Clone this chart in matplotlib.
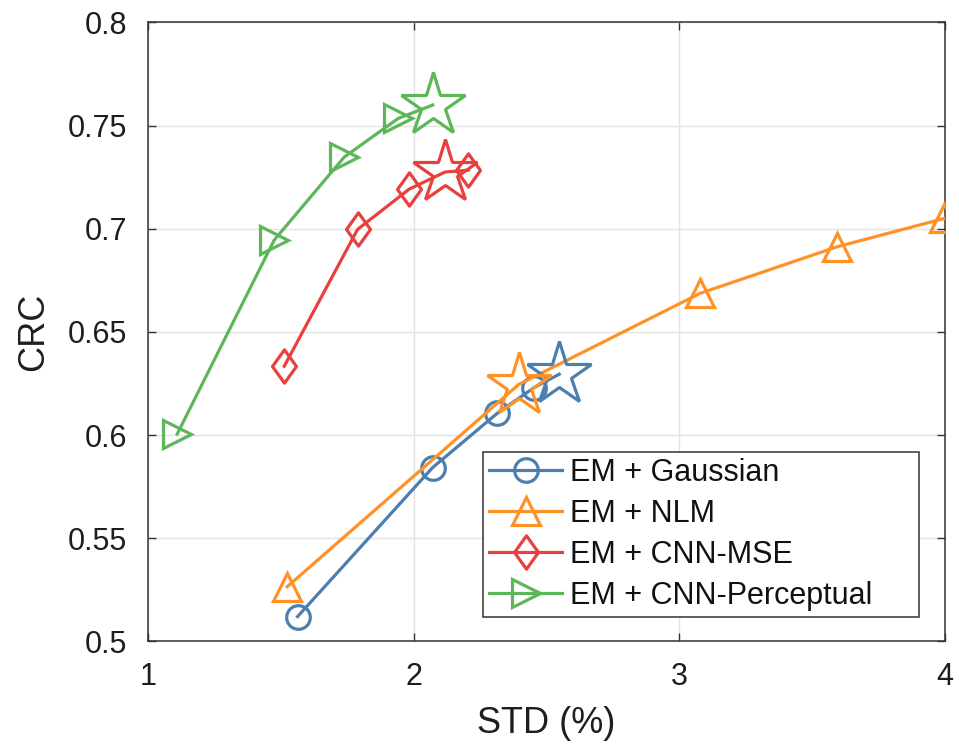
import matplotlib
matplotlib.use("Agg")
import matplotlib.pyplot as plt
from matplotlib.path import Path
import numpy as np

plt.rcParams['font.family'] = ['Liberation Sans', 'DejaVu Sans']

# ---- data ----
labels = ["EM + Gaussian", "EM + NLM", "EM + CNN-MSE", "EM + CNN-Perceptual"]

gauss_x = [1.563, 2.071, 2.314, 2.453, 2.548]
gauss_y = [0.512, 0.5842, 0.6105, 0.623, 0.6295]
gauss_star = 4

nlm_x = [1.524, 2.395, 3.078, 3.592, 3.997]
nlm_y = [0.5265, 0.6245, 0.6687, 0.6912, 0.7050]
nlm_star = 1

mse_x = [1.513, 1.789, 1.983, 2.118, 2.205]
mse_y = [0.6334, 0.6997, 0.7192, 0.7275, 0.7284]
mse_star = 3

perc_x = [1.110, 1.475, 1.739, 1.942, 2.072]
perc_y = [0.6005, 0.6945, 0.7348, 0.7535, 0.7600]
perc_star = 4

xticks = [1, 2, 3, 4]
yticks = [0.5, 0.55, 0.6, 0.65, 0.7, 0.75, 0.8]
ytick_labels = ["0.5", "0.55", "0.6", "0.65", "0.7", "0.75", "0.8"]

colors = ["#4A7FB0", "#FF9226", "#E8403F", "#5DB75A"]

tall_diamond = Path([(0, 1), (0.72, 0), (0, -1), (-0.72, 0), (0, 1)],
                    [Path.MOVETO, Path.LINETO, Path.LINETO, Path.LINETO, Path.CLOSEPOLY])

fig = plt.figure(figsize=(9.59, 7.47), dpi=100)
ax = fig.add_axes([0.1543, 0.1414, 0.8311, 0.8285])

series = [
    (gauss_x, gauss_y, gauss_star, 'o', 17),
    (nlm_x, nlm_y, nlm_star, '^', 19.5),
    (mse_x, mse_y, mse_star, tall_diamond, 24),
    (perc_x, perc_y, perc_star, '>', 20),
]

lw = 2.3
for (xs, ys, si, mk, ms), col, lab in zip(series, colors, labels):
    idx = [i for i in range(len(xs)) if i != si]
    ax.plot(xs, ys, color=col, lw=lw, marker=mk, markersize=ms,
            markerfacecolor='none', markeredgecolor=col, markeredgewidth=lw,
            markevery=idx, label=lab, zorder=3)
    ax.plot([xs[si]], [ys[si]], linestyle='none', marker='*', markersize=48,
            markerfacecolor='none', markeredgecolor=col, markeredgewidth=lw,
            zorder=4)

ax.set_xlim(1, 4)
ax.set_ylim(0.5, 0.8)
ax.set_xticks(xticks)
ax.set_xticklabels([str(t) for t in xticks])
ax.set_yticks(yticks)
ax.set_yticklabels(ytick_labels)

ax.grid(True, color='#E3E3E3', lw=1.0, zorder=0)
ax.set_axisbelow(True)
for sp in ax.spines.values():
    sp.set_color('#333333')
    sp.set_linewidth(1.1)
ax.tick_params(direction='in', length=6, width=1.0, color='#333333',
               labelsize=22, labelcolor='#1E1E1E', top=True, right=True)
ax.tick_params(axis='x', pad=15)
ax.tick_params(axis='y', pad=15)

ax.set_xlabel("STD (%)", fontsize=26, color='#1E1E1E', labelpad=10)
ax.set_ylabel("CRC", fontsize=26, color='#1E1E1E', labelpad=12)

leg = ax.legend(loc='lower left', bbox_to_anchor=(0.420, 0.0394, 0.547, 0.27),
                mode='expand', borderaxespad=0, fontsize=22, handlelength=2.4,
                handletextpad=0.25, borderpad=0.2, labelspacing=0.36,
                fancybox=False, framealpha=1, edgecolor='#333333')
leg.get_frame().set_linewidth(1.1)
for t in leg.get_texts():
    t.set_color('#111111')

fig.savefig("out.png", dpi=100)
